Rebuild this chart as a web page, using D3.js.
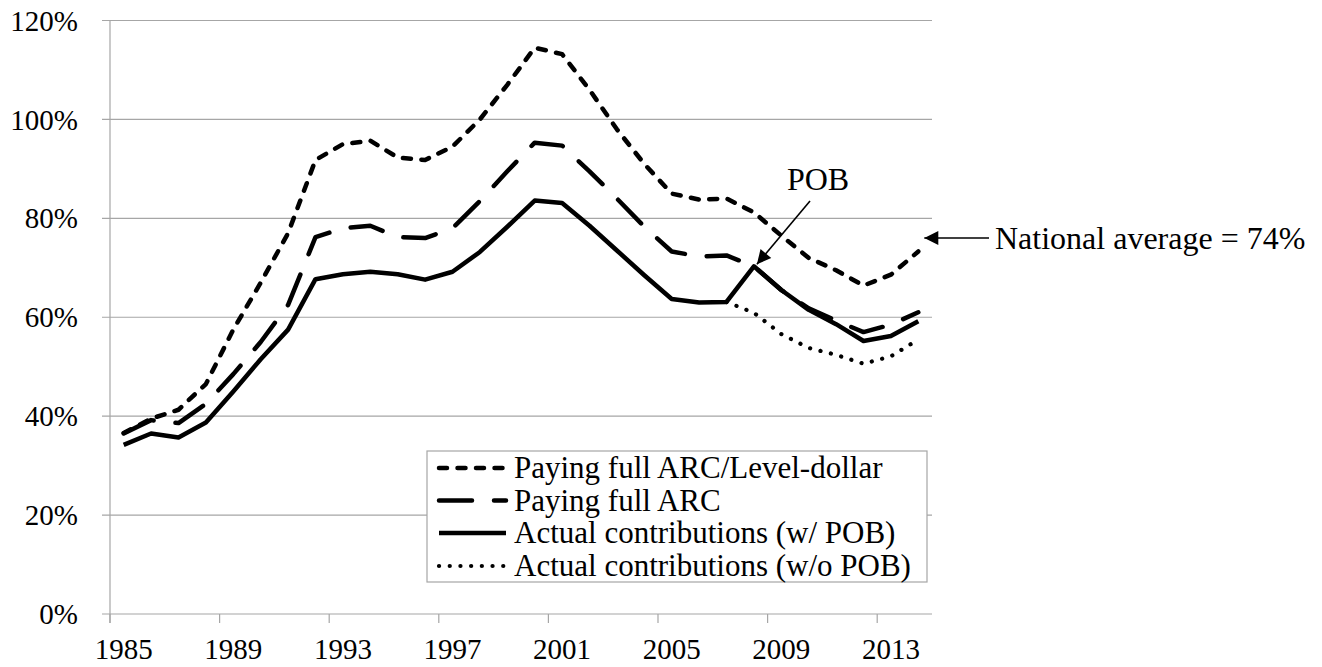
<!DOCTYPE html>
<html>
<head>
<meta charset="utf-8">
<script src="https://cdn.jsdelivr.net/npm/d3@7"></script>
<style>
  html, body { margin: 0; padding: 0; background: #fff; }
  svg { display: block; }
  text { font-family: "Liberation Serif", "Times New Roman", serif; fill: #000; }
</style>
</head>
<body>
<svg id="chart" width="1322" height="667"></svg>
<script>
const years = [1985,1986,1987,1988,1989,1990,1991,1992,1993,1994,1995,1996,1997,1998,1999,
               2000,2001,2002,2003,2004,2005,2006,2007,2008,2009,2010,2011,2012,2013,2014];
const levelDollar = [36.6,39.5,41.3,46.5,57.5,67.0,77.0,91.8,95.0,95.7,92.3,91.8,94.5,100.0,107.0,
                     114.5,113.2,106.0,98.0,91.0,85.0,83.8,84.0,81.2,76.5,72.0,69.5,66.4,68.6,73.3];
const fullARC = [36.5,39.2,38.6,42.5,48.5,55.0,62.5,76.2,78.0,78.5,76.2,76.0,78.0,83.5,89.5,
                 95.3,94.7,89.5,84.0,78.3,73.3,72.3,72.5,70.3,65.5,61.8,59.3,57.0,58.5,61.0];
const actualWithPOB = [34.2,36.5,35.7,38.7,45.0,51.5,57.5,67.7,68.7,69.2,68.7,67.6,69.2,73.2,78.3,
                       83.6,83.1,78.5,73.5,68.5,63.7,63.0,63.1,70.3,65.5,61.5,58.6,55.2,56.2,59.2];
const actualWithoutPOB = [null,null,null,null,null,null,null,null,null,null,null,null,null,null,null,
                          null,null,null,null,null,null,null,63.1,60.9,56.6,53.8,52.4,50.6,52.1,55.5];
const yTicks = [0,20,40,60,80,100,120];
const xTickYears = [1985,1989,1993,1997,2001,2005,2009,2013];
const seriesNames = ["Paying full ARC/Level-dollar","Paying full ARC","Actual contributions (w/ POB)","Actual contributions (w/o POB)"];

const svg = d3.select("#chart");
const plotLeft = 110, plotRight = 932, plotTop = 20.5, plotBottom = 614;
const gridColor = "#a6a6a6";

const x = d3.scaleBand().domain(years).range([plotLeft, plotRight]).padding(0);
const cx = yr => x(yr) + x.bandwidth() / 2;
const y = d3.scaleLinear().domain([0, 120]).range([plotBottom, plotTop]);

// gridlines
svg.append("g").selectAll("line").data(yTicks).join("line")
  .attr("x1", plotLeft - 8).attr("x2", plotRight)
  .attr("y1", d => y(d)).attr("y2", d => y(d))
  .attr("stroke", gridColor).attr("stroke-width", 1.2);

// y axis line
svg.append("line").attr("x1", plotLeft).attr("x2", plotLeft)
  .attr("y1", y(120)).attr("y2", plotBottom + 9)
  .attr("stroke", gridColor).attr("stroke-width", 1.2);

// x ticks (between categories)
svg.append("g").selectAll("line").data(xTickYears).join("line")
  .attr("x1", d => x(d)).attr("x2", d => x(d))
  .attr("y1", plotBottom).attr("y2", plotBottom + 9)
  .attr("stroke", gridColor).attr("stroke-width", 1.2);

// y labels
svg.append("g").selectAll("text").data(yTicks).join("text")
  .attr("x", 78).attr("y", d => y(d)).attr("dy", "0.35em")
  .attr("text-anchor", "end").attr("font-size", 29)
  .text(d => d + "%");

// x labels
svg.append("g").selectAll("text").data(xTickYears).join("text")
  .attr("x", d => cx(d)).attr("y", 659)
  .attr("text-anchor", "middle").attr("font-size", 29)
  .text(d => d);

const styles = [
  { data: levelDollar, dash: "8,10.5", cap: "round", w: 4.5 },
  { data: fullARC, dash: "33,22", cap: "round", w: 4.5 },
  { data: actualWithPOB, dash: null, cap: "butt", w: 4.5 },
  { data: actualWithoutPOB, dash: "0.1,10.6", cap: "round", w: 4.2 }
];

const line = d3.line()
  .defined(d => d[1] !== null)
  .x(d => cx(d[0]))
  .y(d => y(d[1]));

styles.forEach(s => {
  svg.append("path")
    .datum(years.map((yr, i) => [yr, s.data[i]]))
    .attr("d", line)
    .attr("fill", "none")
    .attr("stroke", "#000")
    .attr("stroke-width", s.w)
    .attr("stroke-linejoin", "round")
    .attr("stroke-linecap", s.cap)
    .attr("stroke-dasharray", s.dash);
});

// legend
const lg = svg.append("g");
lg.append("rect").attr("x", 427).attr("y", 451).attr("width", 500).attr("height", 131)
  .attr("fill", "#fff").attr("stroke", gridColor).attr("stroke-width", 1.2);
const rowY = [468, 500.5, 533, 566];
styles.forEach((s, i) => {
  lg.append("line")
    .attr("x1", 439).attr("x2", 506)
    .attr("y1", rowY[i]).attr("y2", rowY[i])
    .attr("stroke", "#000").attr("stroke-width", s.w)
    .attr("stroke-linecap", s.cap)
    .attr("stroke-dasharray", s.dash);
  lg.append("text")
    .attr("x", 514).attr("y", rowY[i]).attr("dy", "0.33em")
    .attr("font-size", 31)
    .text(seriesNames[i]);
});

// arrow marker
const defs = svg.append("defs");
defs.append("marker").attr("id", "arrow")
  .attr("viewBox", "0 0 10 10").attr("refX", 10).attr("refY", 5)
  .attr("markerWidth", 16).attr("markerHeight", 14)
  .attr("markerUnits", "userSpaceOnUse")
  .attr("orient", "auto")
  .append("path").attr("d", "M0,0 L10,5 L0,10 Z").attr("fill", "#000");

// POB annotation
const pobYear = 2008;
svg.append("text").attr("x", 818).attr("y", 190)
  .attr("text-anchor", "middle").attr("font-size", 32).text("POB");
svg.append("line")
  .attr("x1", 810).attr("y1", 201)
  .attr("x2", cx(pobYear) + 3).attr("y2", y(actualWithPOB[years.indexOf(pobYear)]) - 2)
  .attr("stroke", "#000").attr("stroke-width", 1.6)
  .attr("marker-end", "url(#arrow)");

// National average annotation
const lastYear = 2014;
svg.append("line")
  .attr("x1", 989).attr("y1", 238)
  .attr("x2", cx(lastYear) + 6).attr("y2", 238)
  .attr("stroke", "#000").attr("stroke-width", 1.6)
  .attr("marker-end", "url(#arrow)");
svg.append("text").attr("x", 995).attr("y", 249)
  .attr("font-size", 32).text("National average = 74%");
</script>
</body>
</html>
